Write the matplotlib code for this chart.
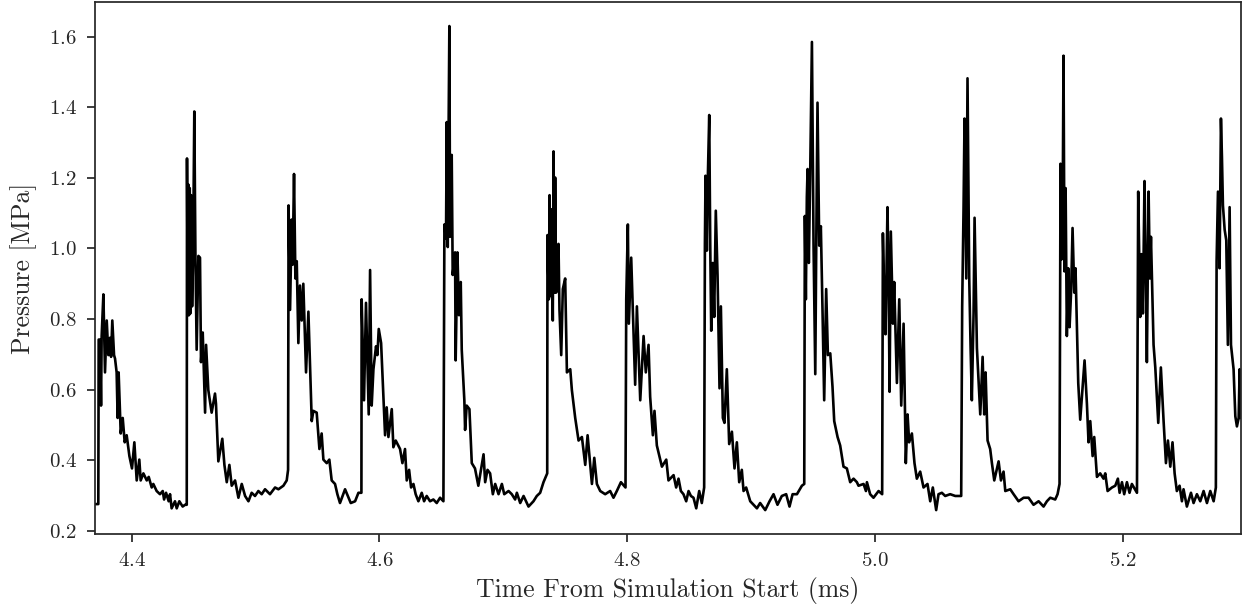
import numpy as np
import matplotlib
matplotlib.use("Agg")
import matplotlib.pyplot as plt
from matplotlib.ticker import MultipleLocator

# pressure trace, one line per firing cycle
time_ms = [
    4.3701, 4.3730, 4.3733, 4.3744, 4.3752, 4.3757, 4.3771, 4.3784, 4.3798, 4.3811, 4.3824, 4.3833, 4.3843, 4.3857, 4.3865, 4.3878, 4.3886, 4.3894, 4.3911, 4.3927, 4.3943, 4.3959, 4.3981, 4.4002, 4.4021, 4.4040, 4.4061, 4.4072, 4.4094, 4.4121, 4.4137, 4.4161, 4.4174, 4.4201, 4.4228, 4.4250, 4.4261, 4.4277, 4.4298, 4.4309, 4.4322, 4.4349, 4.4363, 4.4384, 4.4411, 4.4430, 4.4444,
    4.4446, 4.4452, 4.4457, 4.4462, 4.4468, 4.4473, 4.4479, 4.4487, 4.4495, 4.4505, 4.4514, 4.4524, 4.4538, 4.4551, 4.4559, 4.4573, 4.4592, 4.4600, 4.4618, 4.4645, 4.4672, 4.4680, 4.4699, 4.4731, 4.4748, 4.4767, 4.4788, 4.4807, 4.4834, 4.4861, 4.4888, 4.4915, 4.4942, 4.4968, 4.4995, 4.5022, 4.5049, 4.5076, 4.5116, 4.5157, 4.5184, 4.5224, 4.5251, 4.5262,
    4.5266, 4.5278, 4.5291, 4.5299, 4.5310, 4.5321, 4.5332, 4.5345, 4.5358, 4.5372, 4.5385, 4.5407, 4.5426, 4.5453, 4.5466, 4.5493, 4.5515, 4.5533, 4.5547, 4.5574, 4.5595, 4.5614, 4.5641, 4.5660, 4.5681, 4.5722, 4.5768, 4.5803, 4.5830, 4.5854,
    4.5856, 4.5875, 4.5891, 4.5913, 4.5924, 4.5937, 4.5951, 4.5972, 4.5983, 4.5994, 4.6013, 4.6045, 4.6058, 4.6072, 4.6099, 4.6112, 4.6131, 4.6166, 4.6185, 4.6206, 4.6220, 4.6239, 4.6255, 4.6274, 4.6292, 4.6314, 4.6341, 4.6360, 4.6381, 4.6408, 4.6435, 4.6462, 4.6489, 4.6516,
    4.6524, 4.6537, 4.6543, 4.6551, 4.6564, 4.6570, 4.6583, 4.6591, 4.6610, 4.6615, 4.6629, 4.6642, 4.6656, 4.6664, 4.6685, 4.6691, 4.6704, 4.6726, 4.6745, 4.6771, 4.6798, 4.6840, 4.6853, 4.6872, 4.6893, 4.6915, 4.6934, 4.6961, 4.6988, 4.7007, 4.7042, 4.7068, 4.7095, 4.7109, 4.7136, 4.7163, 4.7203, 4.7243, 4.7270, 4.7297, 4.7324, 4.7354,
    4.7356, 4.7367, 4.7373, 4.7381, 4.7391, 4.7399, 4.7405, 4.7413, 4.7418, 4.7426, 4.7437, 4.7445, 4.7453, 4.7467, 4.7480, 4.7499, 4.7513, 4.7540, 4.7553, 4.7580, 4.7607, 4.7634, 4.7661, 4.7680, 4.7715, 4.7734, 4.7755, 4.7782, 4.7822, 4.7862, 4.7889, 4.7916, 4.7949, 4.7986,
    4.7992, 4.8005, 4.8013, 4.8032, 4.8051, 4.8064, 4.8078, 4.8105, 4.8132, 4.8150, 4.8172, 4.8185, 4.8207, 4.8220, 4.8239, 4.8280, 4.8315, 4.8333, 4.8374, 4.8395, 4.8414, 4.8433, 4.8454, 4.8476, 4.8495, 4.8514, 4.8535, 4.8557, 4.8581, 4.8602, 4.8621,
    4.8627, 4.8632, 4.8643, 4.8651, 4.8662, 4.8670, 4.8678, 4.8691, 4.8702, 4.8715, 4.8729, 4.8745, 4.8756, 4.8772, 4.8785, 4.8804, 4.8823, 4.8845, 4.8866, 4.8885, 4.8904, 4.8925, 4.8939, 4.8960, 4.8993, 4.9020, 4.9047, 4.9073, 4.9114, 4.9149, 4.9181, 4.9213, 4.9248, 4.9283, 4.9310, 4.9335, 4.9370, 4.9410, 4.9429,
    4.9434, 4.9442, 4.9450, 4.9456, 4.9466, 4.9477, 4.9491, 4.9504, 4.9518, 4.9526, 4.9536, 4.9550, 4.9563, 4.9577, 4.9590, 4.9606, 4.9620, 4.9639, 4.9657, 4.9671, 4.9698, 4.9719, 4.9746, 4.9773, 4.9800, 4.9827, 4.9854, 4.9867, 4.9908, 4.9927, 4.9935, 4.9961, 4.9988, 5.0029, 5.0058,
    5.0064, 5.0077, 5.0085, 5.0101, 5.0110, 5.0118, 5.0128, 5.0145, 5.0155, 5.0177, 5.0196, 5.0212, 5.0231, 5.0249, 5.0263, 5.0276, 5.0298, 5.0319, 5.0338, 5.0365, 5.0392, 5.0424, 5.0446, 5.0467, 5.0494, 5.0513, 5.0540, 5.0567, 5.0607, 5.0648, 5.0696,
    5.0704, 5.0715, 5.0723, 5.0737, 5.0747, 5.0761, 5.0772, 5.0782, 5.0796, 5.0804, 5.0823, 5.0850, 5.0869, 5.0882, 5.0893, 5.0909, 5.0930, 5.0944, 5.0963, 5.0998, 5.1017, 5.1038, 5.1052, 5.1092, 5.1119, 5.1159, 5.1200, 5.1240, 5.1280, 5.1321, 5.1361, 5.1388, 5.1415, 5.1455, 5.1474, 5.1490,
    5.1498, 5.1506, 5.1514, 5.1522, 5.1530, 5.1539, 5.1549, 5.1560, 5.1571, 5.1584, 5.1595, 5.1609, 5.1619, 5.1641, 5.1657, 5.1692, 5.1711, 5.1724, 5.1738, 5.1757, 5.1770, 5.1792, 5.1818, 5.1845, 5.1859, 5.1878, 5.1913, 5.1940, 5.1961, 5.1975, 5.1994, 5.2012, 5.2034, 5.2055, 5.2074, 5.2115,
    5.2125, 5.2136, 5.2141, 5.2152, 5.2163, 5.2176, 5.2187, 5.2195, 5.2209, 5.2219, 5.2228, 5.2249, 5.2263, 5.2287, 5.2308, 5.2330, 5.2349, 5.2365, 5.2384, 5.2402, 5.2419, 5.2437, 5.2459, 5.2478, 5.2491, 5.2518, 5.2551, 5.2572, 5.2599, 5.2626, 5.2653, 5.2680, 5.2707, 5.2734, 5.2752,
    5.2758, 5.2769, 5.2782, 5.2793, 5.2801, 5.2809, 5.2823, 5.2836, 5.2849, 5.2863, 5.2874, 5.2895, 5.2909, 5.2922, 5.2936, 5.2944, 5.2955,
]

pressure_mpa = [
    0.276, 0.276, 0.742, 0.742, 0.555, 0.752, 0.870, 0.649, 0.796, 0.698, 0.747, 0.693, 0.796, 0.698, 0.688, 0.649, 0.520, 0.649, 0.476, 0.520, 0.451, 0.471, 0.412, 0.377, 0.451, 0.343, 0.402, 0.343, 0.363, 0.343, 0.353, 0.323, 0.333, 0.313, 0.304, 0.313, 0.289, 0.308, 0.284, 0.304, 0.264, 0.284, 0.264, 0.284, 0.269, 0.274, 0.274,
    1.255, 0.811, 1.181, 0.811, 1.171, 0.816, 1.151, 0.836, 0.974, 1.388, 0.979, 0.713, 0.979, 0.974, 0.678, 0.762, 0.535, 0.727, 0.599, 0.535, 0.589, 0.560, 0.397, 0.461, 0.387, 0.338, 0.387, 0.328, 0.343, 0.294, 0.333, 0.299, 0.284, 0.308, 0.299, 0.313, 0.304, 0.318, 0.304, 0.323, 0.318, 0.328, 0.343, 0.373,
    1.122, 0.826, 1.082, 0.954, 1.211, 0.915, 0.964, 0.732, 0.895, 0.796, 0.900, 0.649, 0.821, 0.511, 0.540, 0.535, 0.432, 0.476, 0.402, 0.392, 0.402, 0.343, 0.333, 0.304, 0.279, 0.318, 0.279, 0.284, 0.308, 0.308,
    0.856, 0.570, 0.846, 0.530, 0.939, 0.555, 0.658, 0.723, 0.698, 0.772, 0.732, 0.471, 0.550, 0.466, 0.545, 0.437, 0.456, 0.432, 0.392, 0.432, 0.343, 0.373, 0.323, 0.333, 0.304, 0.284, 0.308, 0.284, 0.299, 0.284, 0.289, 0.279, 0.294, 0.284,
    1.068, 1.028, 1.358, 1.004, 1.630, 1.033, 1.265, 0.925, 0.989, 0.683, 0.989, 0.811, 0.905, 0.713, 0.570, 0.486, 0.555, 0.545, 0.392, 0.377, 0.328, 0.417, 0.338, 0.373, 0.363, 0.304, 0.333, 0.304, 0.333, 0.304, 0.313, 0.304, 0.289, 0.308, 0.279, 0.299, 0.269, 0.284, 0.299, 0.308, 0.338, 0.363,
    1.038, 0.856, 1.151, 0.865, 1.111, 0.796, 1.275, 0.875, 1.201, 0.875, 0.964, 1.013, 0.826, 0.698, 0.885, 0.915, 0.649, 0.658, 0.599, 0.520, 0.456, 0.466, 0.387, 0.471, 0.333, 0.407, 0.333, 0.313, 0.304, 0.313, 0.294, 0.313, 0.338, 0.323,
    0.856, 1.068, 0.787, 0.974, 0.757, 0.614, 0.836, 0.570, 0.752, 0.649, 0.727, 0.580, 0.471, 0.540, 0.442, 0.382, 0.402, 0.343, 0.358, 0.323, 0.348, 0.313, 0.304, 0.284, 0.313, 0.299, 0.294, 0.264, 0.313, 0.279, 0.323,
    1.013, 1.206, 0.994, 1.206, 1.378, 1.013, 0.767, 0.959, 0.806, 1.107, 0.925, 0.604, 0.836, 0.520, 0.506, 0.658, 0.446, 0.481, 0.377, 0.451, 0.338, 0.373, 0.313, 0.323, 0.284, 0.274, 0.264, 0.279, 0.259, 0.284, 0.304, 0.274, 0.299, 0.304, 0.269, 0.304, 0.304, 0.328, 0.333,
    1.092, 0.856, 1.146, 1.225, 0.959, 1.211, 1.585, 1.013, 0.644, 1.013, 1.413, 1.008, 1.063, 0.816, 0.570, 0.885, 0.698, 0.703, 0.609, 0.511, 0.466, 0.442, 0.382, 0.377, 0.338, 0.348, 0.338, 0.328, 0.333, 0.313, 0.338, 0.304, 0.294, 0.313, 0.304,
    1.043, 0.816, 0.757, 1.117, 0.915, 0.594, 1.048, 0.787, 0.905, 0.619, 0.856, 0.555, 0.787, 0.392, 0.530, 0.451, 0.476, 0.392, 0.348, 0.368, 0.323, 0.333, 0.284, 0.323, 0.259, 0.304, 0.308, 0.299, 0.304, 0.299, 0.299,
    0.836, 1.112, 1.368, 0.915, 1.482, 0.915, 0.718, 0.570, 0.816, 1.087, 0.718, 0.530, 0.693, 0.530, 0.649, 0.456, 0.432, 0.392, 0.343, 0.397, 0.343, 0.368, 0.313, 0.318, 0.304, 0.284, 0.294, 0.294, 0.274, 0.284, 0.269, 0.284, 0.294, 0.289, 0.304, 0.333,
    1.240, 0.969, 1.013, 1.546, 0.935, 1.171, 0.752, 0.944, 0.777, 0.885, 1.058, 0.875, 0.944, 0.619, 0.515, 0.683, 0.560, 0.451, 0.511, 0.412, 0.466, 0.353, 0.363, 0.348, 0.363, 0.313, 0.323, 0.328, 0.348, 0.308, 0.338, 0.304, 0.338, 0.308, 0.333, 0.308,
    1.161, 0.915, 0.806, 0.984, 0.816, 1.191, 0.915, 0.678, 1.161, 0.915, 1.033, 0.727, 0.663, 0.506, 0.663, 0.511, 0.392, 0.456, 0.382, 0.451, 0.363, 0.313, 0.328, 0.284, 0.318, 0.269, 0.308, 0.279, 0.304, 0.284, 0.313, 0.279, 0.313, 0.284, 0.323,
    0.964, 1.161, 0.944, 1.368, 1.260, 1.122, 1.053, 1.023, 0.727, 1.117, 0.727, 0.658, 0.525, 0.496, 0.520, 0.658, 0.520,
]

assert len(time_ms) == len(pressure_mpa)

plt.rcParams["font.family"] = "serif"
plt.rcParams["font.serif"] = ["cmr10"]
plt.rcParams["mathtext.fontset"] = "cm"
plt.rcParams["axes.formatter.use_mathtext"] = True

ink = "0.15"

fig, ax = plt.subplots(figsize=(12.43, 6.13), dpi=100)
fig.subplots_adjust(left=0.0762, right=0.9984, bottom=0.1284, top=0.997)

ax.plot(time_ms, pressure_mpa, color="black", linewidth=1.9)
ax.set_xlim(time_ms[0], time_ms[-1])
ax.xaxis.set_major_locator(MultipleLocator(0.2))
ax.yaxis.set_major_locator(MultipleLocator(0.2))
ax.tick_params(labelsize=15, length=6, width=1.25, pad=7, color=ink, labelcolor=ink)
for spine in ax.spines.values():
    spine.set_linewidth(1.25)
    spine.set_color(ink)
ax.set_xlabel("Time From Simulation Start (ms)", fontsize=18.5, color=ink, labelpad=5)
ax.set_ylabel("Pressure [MPa]", fontsize=18.5, color=ink, labelpad=8)

plt.savefig("out.png", dpi=100)
